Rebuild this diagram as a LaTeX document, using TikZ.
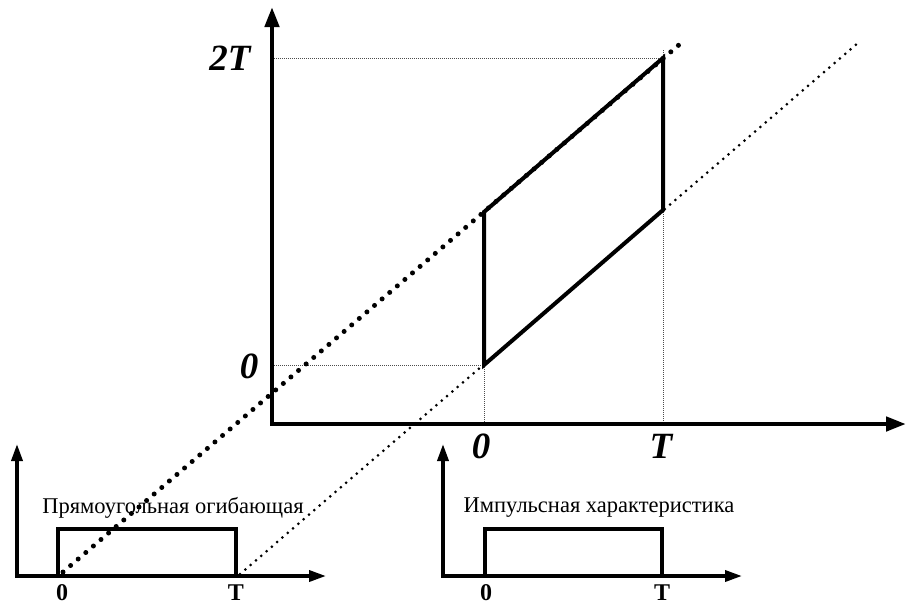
\documentclass[tikz,border=0pt]{standalone}
\usepackage{fontspec}
\setmainfont{Liberation Serif}
\usetikzlibrary{arrows.meta}
\begin{document}
\begin{tikzpicture}[x=1pt,y=-1pt,
  mainaxis/.style={line width=4.5pt,line join=miter,{Triangle[length=20pt,width=14pt]}-{Triangle[length=20pt,width=14pt]}},
  smallaxis/.style={line width=3.5pt,line join=miter,{Triangle[length=17pt,width=11pt]}-{Triangle[length=17pt,width=11pt]}},
  paraline/.style={line width=4pt,line join=miter},
  pulse/.style={line width=3.5pt,line join=miter},
  guide/.style={line width=0.9pt,dash pattern=on 1pt off 1pt,gray!60!black},
  bigdots/.style={line width=5pt,line cap=round,dash pattern=on 0pt off 10pt},
  smalldots/.style={line width=3pt,line cap=round,dash pattern=on 0pt off 7pt},
  biglab/.style={font=\fontsize{37}{37}\selectfont\bfseries\itshape},
  smalllab/.style={font=\fontsize{24}{24}\selectfont\bfseries},
  caption/.style={font=\fontsize{22.5}{22.5}\selectfont}
]
\useasboundingbox (0,0) rectangle (907,606);

% main axes
\coordinate (O) at (272,424);
\coordinate (Ytip) at (272,7);
\coordinate (Xtip) at (906,424);
% parallelogram corners
\coordinate (A) at (484,365);
\coordinate (B) at (484,212);
\coordinate (C) at (663,58);
\coordinate (D) at (663,210);
% guide line ends
\coordinate (G2T) at (272,58);
\coordinate (G0) at (272,365);
\coordinate (Xa) at (484,424);
\coordinate (Xb) at (663,424);
\coordinate (Ctop) at (663,50);
% dotted line ends
\coordinate (P1) at (63,572);
\coordinate (P2) at (680,44);
\coordinate (Q1) at (240,574);
\coordinate (Q2) at (858,43);

% guides
\draw[guide] (G2T) -- (C) -- (Ctop);
\draw[guide] (C) -- (Xb);
\draw[guide] (G0) -- (A) -- (Xa);
\draw[guide] (B) -- (A);

% axes
\draw[mainaxis] (Ytip) -- (O) -- (Xtip);

% dotted lines
\draw[bigdots] (P1) -- (P2);
\draw[smalldots] (Q1) -- (Q2);

% parallelogram
\draw[paraline] (A) -- (B) -- (C) -- (D) -- cycle;

% labels main
\node[biglab] (l2T) at (230,58) {2T};
\node[biglab] (l0y) at (249,366) {0};
\node[biglab] (l0x) at (481,446) {0};
\node[biglab] (lTx) at (661,446) {T};

% left small diagram
\coordinate (LO) at (17,576);
\coordinate (LY) at (17,444);
\coordinate (LX) at (326,576);
\draw[smallaxis] (LY) -- (LO) -- (LX);
\coordinate (L1) at (58,576);
\coordinate (L2) at (58,529);
\coordinate (L3) at (236,529);
\coordinate (L4) at (236,576);
\draw[pulse] (L1) -- (L2) -- (L3) -- (L4);
\node[smalllab] (lL0) at (62,593) {0};
\node[smalllab] (lLT) at (236,593) {T};
\node[caption] (capL) at (173,508) {Прямоугольная огибающая};

% right small diagram
\coordinate (RO) at (443,576);
\coordinate (RY) at (443,444);
\coordinate (RX) at (742,576);
\draw[smallaxis] (RY) -- (RO) -- (RX);
\coordinate (R1) at (485,576);
\coordinate (R2) at (485,529);
\coordinate (R3) at (662,529);
\coordinate (R4) at (662,576);
\draw[pulse] (R1) -- (R2) -- (R3) -- (R4);
\node[smalllab] (lR0) at (486,593) {0};
\node[smalllab] (lRT) at (662,593) {T};
\node[caption] (capR) at (599,508) {Импульсная характеристика};
\end{tikzpicture}
\end{document}
